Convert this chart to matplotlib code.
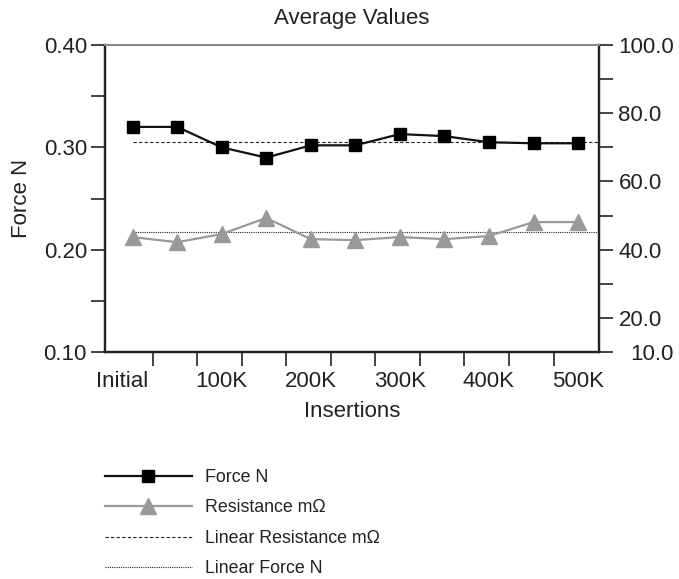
import numpy as np
import matplotlib
matplotlib.use("Agg")
import matplotlib.pyplot as plt
import matplotlib.transforms as mtransforms
from matplotlib.ticker import FixedLocator, FormatStrFormatter

plt.rcParams['font.family'] = ['Liberation Sans', 'DejaVu Sans']

# data
insertions = ["Initial", "50K", "100K", "150K", "200K", "250K",
              "300K", "350K", "400K", "450K", "500K"]
force = [0.320, 0.320, 0.300, 0.290, 0.302, 0.302, 0.313, 0.311, 0.305, 0.304, 0.304]
resistance = [43.7, 42.2, 44.6, 49.3, 43.1, 42.8, 43.7, 43.1, 44.0, 48.1, 48.1]
linear_resistance_level = 0.305   # dashed trend (drawn on force axis)
linear_force_level = 45.2         # dotted trend (drawn on resistance axis)

left_ticks = [0.10, 0.20, 0.30, 0.40]
right_ticks = [10, 20, 40, 60, 80, 100]

fig = plt.figure(figsize=(6.79, 5.79), dpi=100)
ax = fig.add_axes([0.1546, 0.392, 0.7276, 0.5302])
ax2 = ax.twinx()

x = np.arange(len(insertions))
xlim = (-0.62, 10.47)

l1, = ax.plot(x, force, color='#111111', lw=1.6, marker='s', ms=8,
              mfc='black', mec='black', label='Force N', zorder=5)
l2, = ax2.plot(x, resistance, color='#999999', lw=1.6, marker='^', ms=11,
               mfc='#999999', mec='#999999', label='Resistance m\u03a9', zorder=5)
l3, = ax.plot([0, xlim[1]], [linear_resistance_level] * 2, color='#222222',
              lw=0.8, ls=(0, (3, 2)), label='Linear Resistance m\u03a9')
l4, = ax2.plot([0, xlim[1]], [linear_force_level] * 2, color='#222222',
               lw=0.8, ls=(0, (1, 1)), label='Linear Force N')

ax.set_xlim(*xlim)
ax.set_ylim(0.10, 0.40)
ax2.set_ylim(10, 100)

# y axes
ax.yaxis.set_major_locator(FixedLocator(left_ticks))
ax.yaxis.set_minor_locator(FixedLocator([0.15, 0.25, 0.35]))
ax.yaxis.set_major_formatter(FormatStrFormatter('%.2f'))
ax2.yaxis.set_major_locator(FixedLocator(right_ticks))
ax2.yaxis.set_minor_locator(FixedLocator([30, 50, 70, 90]))
ax2.yaxis.set_major_formatter(FormatStrFormatter('%.1f'))

# x axis: ticks between categories, labels every other category
ax.xaxis.set_major_locator(FixedLocator(x[::2]))
ax.set_xticklabels(insertions[::2])
ax.xaxis.set_minor_locator(FixedLocator(x[:-1] + 0.45))

for a in (ax, ax2):
    a.tick_params(which='both', direction='out', length=10, width=1.2,
                  color='#222222', labelsize=16, labelcolor='#222222')
ax.tick_params(axis='x', which='major', length=0, pad=14)
ax.tick_params(axis='y', pad=3)
ax2.tick_params(axis='y', pad=4)

# nudge a couple of tick labels like the reference
fig.canvas.draw()
lab = ax2.get_yticklabels()[0]
lab.set_transform(lab.get_transform() +
                  mtransforms.ScaledTranslation(12 / 100, 0, fig.dpi_scale_trans))
lab = ax.get_xticklabels()[0]
lab.set_transform(lab.get_transform() +
                  mtransforms.ScaledTranslation(-10 / 100, 0, fig.dpi_scale_trans))

for a in (ax, ax2):
    for s in ('left', 'bottom', 'right'):
        a.spines[s].set_color('#222222')
        a.spines[s].set_linewidth(1.6)
    a.spines['top'].set_color('#888888')
    a.spines['top'].set_linewidth(1.4)

ax.set_title('Average Values', fontsize=16, color='#222222', pad=15)
ax.set_xlabel('Insertions', fontsize=16, color='#222222', labelpad=6)
ax.set_ylabel('Force N', fontsize=16, color='#222222', labelpad=8)

fig.legend(handles=[l1, l2, l3, l4], loc='upper left',
           bbox_to_anchor=(0.1435, 0.202), frameon=False, fontsize=12.8,
           handlelength=4.9, handletextpad=0.75, labelspacing=0.75,
           labelcolor='#222222', borderaxespad=0)

fig.savefig('out.png', dpi=100)
